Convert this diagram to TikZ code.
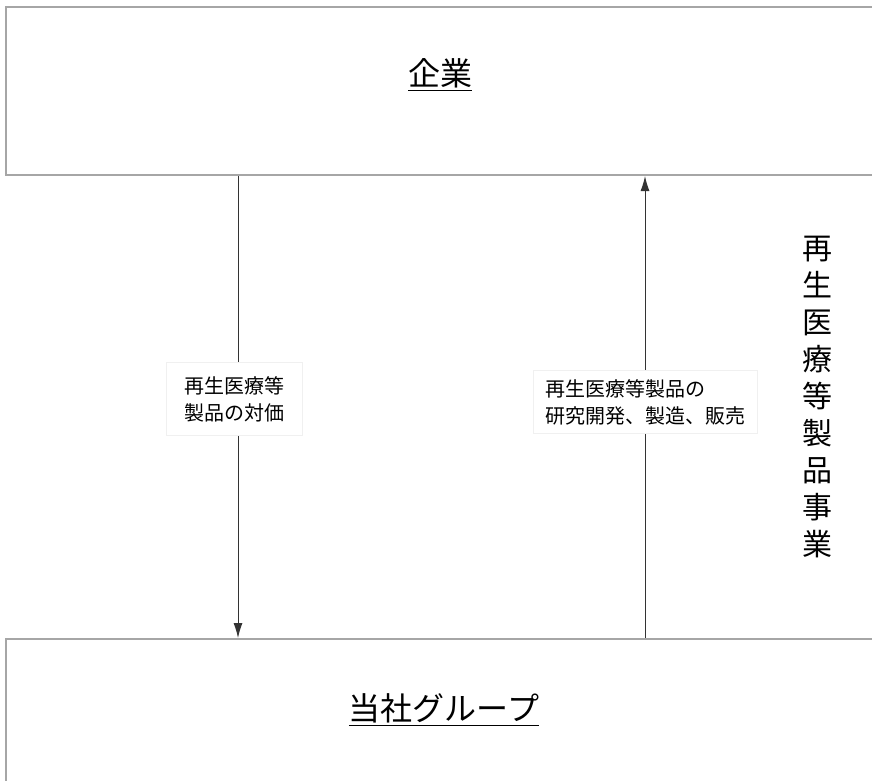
\documentclass[tikz,border=0pt]{standalone}
\usepackage{fontspec}
\setmainfont{Noto Sans CJK JP}
\usepackage{tikz}
\usetikzlibrary{positioning,arrows.meta}

\begin{document}
\begin{tikzpicture}[
    x=0.5pt, y=-0.5pt,
    >={Latex[length=7.5pt,width=4.5pt]},
    party/.style={draw=gray!70, line width=1pt, minimum width=436pt, minimum height=84pt, inner sep=0pt},
    title/.style={font=\fontsize{16}{20}\selectfont, inner sep=0pt},
    flow/.style={->, draw=black!80, line width=0.5pt},
    tag/.style={draw=gray!12, fill=white, font=\fontsize{10}{13.5}\selectfont}]

    \useasboundingbox (0,0) rectangle (872,781);

    \node[party, anchor=north west] (kigyo) at (5,6) {};
    \node[party, anchor=north west] (tosha) at (5,638) {};
    \node[title] (t1) at (440,75) {\underline{企業}};
    \node[title] (t2) at (444,710) {\underline{当社グループ}};

    \coordinate (c1) at (238,400);
    \coordinate (c2) at (645,402);
    \draw[flow] (kigyo.south -| c1) -- (tosha.north -| c1);
    \draw[flow] (tosha.north -| c2) -- (kigyo.south -| c2);

    \node[tag, align=center, inner xsep=9pt, inner ysep=7pt] (l1) at (234,399) {再生医療等\\製品の対価};
    \node[tag, align=left, inner xsep=6pt, inner ysep=4.5pt] (l2) at (c2) {再生医療等製品の\\研究開発、製造、販売};

    \node[font=\fontsize{15}{18.5}\selectfont, align=center, inner sep=0pt] (biz) at (817,397)
        {再\\生\\医\\療\\等\\製\\品\\事\\業};

\end{tikzpicture}
\end{document}
